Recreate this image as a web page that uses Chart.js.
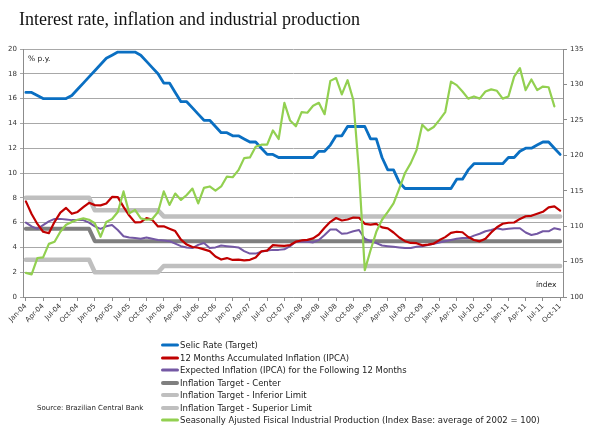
<!DOCTYPE html>
<html><head><meta charset="utf-8">
<script src="https://cdn.jsdelivr.net/npm/chart.js@4.4.0/dist/chart.umd.min.js"></script>
<style>
html,body{margin:0;padding:0;background:#fff;}
#wrap{position:relative;width:592px;height:440px;overflow:hidden;background:#fff;}
canvas{position:absolute;left:0;top:0;}
.t{position:absolute;white-space:nowrap;color:#222;}
.lg{position:absolute;left:161px;height:10px;}
.lg span.s{position:absolute;left:0;top:50%;width:18px;border-radius:2px;transform:translateY(-50%);}
.lg span.x{position:absolute;left:19px;top:0;font:8.5px 'DejaVu Sans';line-height:10px;color:#222;white-space:nowrap;}
</style></head><body>
<div id="wrap">
<canvas id="c" width="592" height="440"></canvas>
<div class="t" style="left:19px;top:10px;font:18px 'Liberation Serif';line-height:18px;color:#111;">Interest rate, inflation and industrial production</div>
<div class="t" style="left:28px;top:54px;font:7.5px 'DejaVu Sans';line-height:10px;">% p.y.</div>
<div class="t" style="left:536px;top:280px;font:7.5px 'DejaVu Sans';line-height:10px;">índex</div>
<div class="t" style="left:37px;top:403px;font:7px 'DejaVu Sans';line-height:10px;">Source: Brazilian Central Bank</div>
<div id="legend"></div>
</div>
<script>
// ---- categories ----
const monthNames = ['Jan','Feb','Mar','Apr','May','Jun','Jul','Aug','Sep','Oct','Nov','Dec'];
const yearCodes = ['04','05','06','07','08','09','10','11'];
const categories = [];
yearCodes.forEach(y => monthNames.forEach(m => categories.push(m + '-' + y)));
categories.length = 94; // Jan-04 .. Oct-11

// ---- left axis series (% p.y.) ----
const selic = [
 16.5,16.5,16.25,16,16,16,16,16,16.25,16.75,17.25,17.75,
 18.25,18.75,19.25,19.5,19.75,19.75,19.75,19.75,19.5,19,18.5,18,
 17.25,17.25,16.5,15.75,15.75,15.25,14.75,14.25,14.25,13.75,13.25,13.25,
 13,13,12.75,12.5,12.5,12,11.5,11.5,11.25,11.25,11.25,11.25,
 11.25,11.25,11.25,11.75,11.75,12.25,13,13,13.75,13.75,13.75,13.75,
 12.75,12.75,11.25,10.25,10.25,9.25,8.75,8.75,8.75,8.75,8.75,8.75,
 8.75,8.75,8.75,9.5,9.5,10.25,10.75,10.75,10.75,10.75,10.75,10.75,
 11.25,11.25,11.75,12,12,12.25,12.5,12.5,12,11.5
];
const ipca12m = [
 7.71,6.69,5.89,5.26,5.15,6.06,6.81,7.18,6.71,6.86,7.24,7.60,
 7.41,7.39,7.54,8.07,8.05,7.27,6.57,6.02,6.04,6.36,6.22,5.69,
 5.70,5.51,5.32,4.63,4.23,4.03,3.97,3.84,3.70,3.26,3.02,3.14,
 2.99,3.02,2.96,3.00,3.18,3.69,3.74,4.18,4.15,4.12,4.19,4.46,
 4.56,4.61,4.73,5.04,5.58,6.06,6.37,6.17,6.25,6.41,6.39,5.90,
 5.84,5.90,5.61,5.53,5.20,4.80,4.50,4.36,4.34,4.17,4.22,4.31,
 4.59,4.83,5.17,5.26,5.22,4.84,4.60,4.49,4.70,5.20,5.63,5.91,
 5.99,6.01,6.30,6.51,6.55,6.71,6.87,7.23,7.31,6.97
];
const expectedIpca = [
 6.0,5.7,5.5,5.8,6.1,6.3,6.3,6.25,6.2,6.2,6.2,6.0,
 5.7,5.5,5.7,5.8,5.4,4.9,4.8,4.75,4.7,4.8,4.7,4.6,
 4.55,4.5,4.3,4.1,4.0,3.95,4.2,4.35,3.95,4.0,4.15,4.1,
 4.05,4.0,3.7,3.5,3.5,3.65,3.75,3.8,3.8,3.85,4.1,4.45,
 4.45,4.45,4.4,4.6,5.0,5.45,5.45,5.1,5.15,5.3,5.4,4.7,
 4.5,4.35,4.15,4.1,4.05,4.0,3.95,3.95,4.05,4.1,4.2,4.3,
 4.4,4.5,4.6,4.7,4.75,4.75,4.95,5.1,5.3,5.4,5.55,5.45,
 5.5,5.55,5.55,5.2,5.0,5.1,5.3,5.3,5.55,5.45
];
const targetCenter = [
 5.5,5.5,5.5,5.5,5.5,5.5,5.5,5.5,5.5,5.5,5.5,5.5,
 4.5,4.5,4.5,4.5,4.5,4.5,4.5,4.5,4.5,4.5,4.5,4.5,
 4.5,4.5,4.5,4.5,4.5,4.5,4.5,4.5,4.5,4.5,4.5,4.5,
 4.5,4.5,4.5,4.5,4.5,4.5,4.5,4.5,4.5,4.5,4.5,4.5,
 4.5,4.5,4.5,4.5,4.5,4.5,4.5,4.5,4.5,4.5,4.5,4.5,
 4.5,4.5,4.5,4.5,4.5,4.5,4.5,4.5,4.5,4.5,4.5,4.5,
 4.5,4.5,4.5,4.5,4.5,4.5,4.5,4.5,4.5,4.5,4.5,4.5,
 4.5,4.5,4.5,4.5,4.5,4.5,4.5,4.5,4.5,4.5
];
const targetInferior = [
 3,3,3,3,3,3,3,3,3,3,3,3,
 2,2,2,2,2,2,2,2,2,2,2,2,
 2.5,2.5,2.5,2.5,2.5,2.5,2.5,2.5,2.5,2.5,2.5,2.5,
 2.5,2.5,2.5,2.5,2.5,2.5,2.5,2.5,2.5,2.5,2.5,2.5,
 2.5,2.5,2.5,2.5,2.5,2.5,2.5,2.5,2.5,2.5,2.5,2.5,
 2.5,2.5,2.5,2.5,2.5,2.5,2.5,2.5,2.5,2.5,2.5,2.5,
 2.5,2.5,2.5,2.5,2.5,2.5,2.5,2.5,2.5,2.5,2.5,2.5,
 2.5,2.5,2.5,2.5,2.5,2.5,2.5,2.5,2.5,2.5
];
const targetSuperior = [
 8,8,8,8,8,8,8,8,8,8,8,8,
 7,7,7,7,7,7,7,7,7,7,7,7,
 6.5,6.5,6.5,6.5,6.5,6.5,6.5,6.5,6.5,6.5,6.5,6.5,
 6.5,6.5,6.5,6.5,6.5,6.5,6.5,6.5,6.5,6.5,6.5,6.5,
 6.5,6.5,6.5,6.5,6.5,6.5,6.5,6.5,6.5,6.5,6.5,6.5,
 6.5,6.5,6.5,6.5,6.5,6.5,6.5,6.5,6.5,6.5,6.5,6.5,
 6.5,6.5,6.5,6.5,6.5,6.5,6.5,6.5,6.5,6.5,6.5,6.5,
 6.5,6.5,6.5,6.5,6.5,6.5,6.5,6.5,6.5,6.5
];
// ---- right axis series (index, 2002 = 100), through Sep-11 ----
const industrialProduction = [
 103.4,103.2,105.5,105.6,107.5,107.8,109.2,110.2,110.6,110.9,111.1,110.9,
 110.4,108.5,110.6,111.0,112.0,114.9,111.8,112.3,111.1,110.9,111.0,112.0,
 114.9,113.0,114.6,113.7,114.4,115.3,113.2,115.4,115.6,115.0,115.6,117.0,
 116.9,117.9,119.6,119.7,121.2,121.5,121.5,123.5,122.3,127.4,124.9,124.1,
 126.1,126.0,127.0,127.4,125.8,130.5,130.9,128.6,130.6,127.8,117.5,103.8,
 106.6,109.2,110.9,112.0,113.2,115.3,117.5,118.9,120.7,124.3,123.5,124.0,
 125.0,126.1,130.4,129.9,129.0,128.0,128.3,128.0,129.0,129.3,129.1,128.0,
 128.3,131.1,132.3,129.2,130.7,129.2,129.7,129.6,126.9
];
const leftTicks = {min:0, max:20, step:2};
const rightTicks = {min:100, max:135, step:5};
const seriesLabels = [
 'Selic Rate (Target)',
 '12 Months Accumulated Inflation (IPCA)',
 'Expected Inflation (IPCA) for the Following 12 Months',
 'Inflation Target - Center',
 'Inflation Target - Inferior Limit',
 'Inflation Target - Superior Limit',
 'Seasonally Ajusted Fisical Industrial Production (Index Base: average of 2002 = 100)'
];

const styles = [
 {c:'#0A6FC2', w:2.8, order:1, axis:'y'},
 {c:'#C00000', w:2.2, order:2, axis:'y'},
 {c:'#7458A4', w:2.0, order:3, axis:'y'},
 {c:'#7F7F7F', w:4.0, order:4, axis:'y'},
 {c:'#BFBFBF', w:4.5, order:5, axis:'y'},
 {c:'#BFBFBF', w:4.5, order:6, axis:'y'},
 {c:'#92D050', w:2.2, order:0, axis:'y2'}
];
const seriesData = [selic, ipca12m, expectedIpca, targetCenter, targetInferior, targetSuperior, industrialProduction];

const datasets = seriesData.map((d,i) => ({
  label: seriesLabels[i], data: d, yAxisID: styles[i].axis,
  borderColor: styles[i].c, backgroundColor: styles[i].c, borderWidth: styles[i].w,
  pointRadius: 0, pointHoverRadius: 0, tension: 0, fill: false,
  borderJoinStyle: 'round', borderCapStyle: 'round', order: styles[i].order
}));

const tickFont = {family: "'DejaVu Sans'", size: 7};
new Chart(document.getElementById('c'), {
  type: 'line',
  data: {labels: categories, datasets},
  options: {
    responsive: false, animation: false, devicePixelRatio: 1,
    layout: {padding: {top: 49, left: 0, right: 0, bottom: 0}},
    plugins: {legend: {display: false}, tooltip: {enabled: false}, title: {display: false}},
    scales: {
      x: {
        type: 'category', offset: true,
        grid: {drawOnChartArea: false, drawTicks: true, tickLength: 4, color: '#8c8c8c'},
        border: {color: '#8c8c8c', width: 1},
        ticks: {autoSkip: false, minRotation: 45, maxRotation: 45, font: tickFont, color: '#333', padding: 1,
          callback: (v, i) => (i % 3 === 0 ? categories[i] : null)},
        afterFit: s => { s.height = 143; s.paddingLeft = 0; s.paddingRight = 0; }
      },
      y: {
        position: 'left', min: leftTicks.min, max: leftTicks.max,
        grid: {color: '#a8a8a8', lineWidth: 1, tickLength: 3},
        border: {color: '#8c8c8c', width: 1},
        ticks: {stepSize: leftTicks.step, font: tickFont, color: '#333', padding: 3},
        afterFit: s => { s.width = 23; }
      },
      y2: {
        position: 'right', min: rightTicks.min, max: rightTicks.max,
        grid: {drawOnChartArea: false, tickLength: 4, color: '#8c8c8c'},
        border: {color: '#8c8c8c', width: 1},
        ticks: {stepSize: rightTicks.step, font: tickFont, color: '#333', padding: 3},
        afterFit: s => { s.width = 29; }
      }
    }
  }
});

// HTML legend built from the datasets
const lg = document.getElementById('legend');
seriesLabels.forEach((lab, i) => {
  const row = document.createElement('div');
  row.className = 'lg';
  row.style.top = (340 + i * 12.5) + 'px';
  const s = document.createElement('span');
  s.className = 's';
  s.style.background = styles[i].c;
  s.style.height = (styles[i].w >= 4 ? 4 : 3) + 'px';
  const x = document.createElement('span');
  x.className = 'x';
  x.textContent = lab;
  row.appendChild(s); row.appendChild(x);
  lg.appendChild(row);
});
</script>
</body></html>
